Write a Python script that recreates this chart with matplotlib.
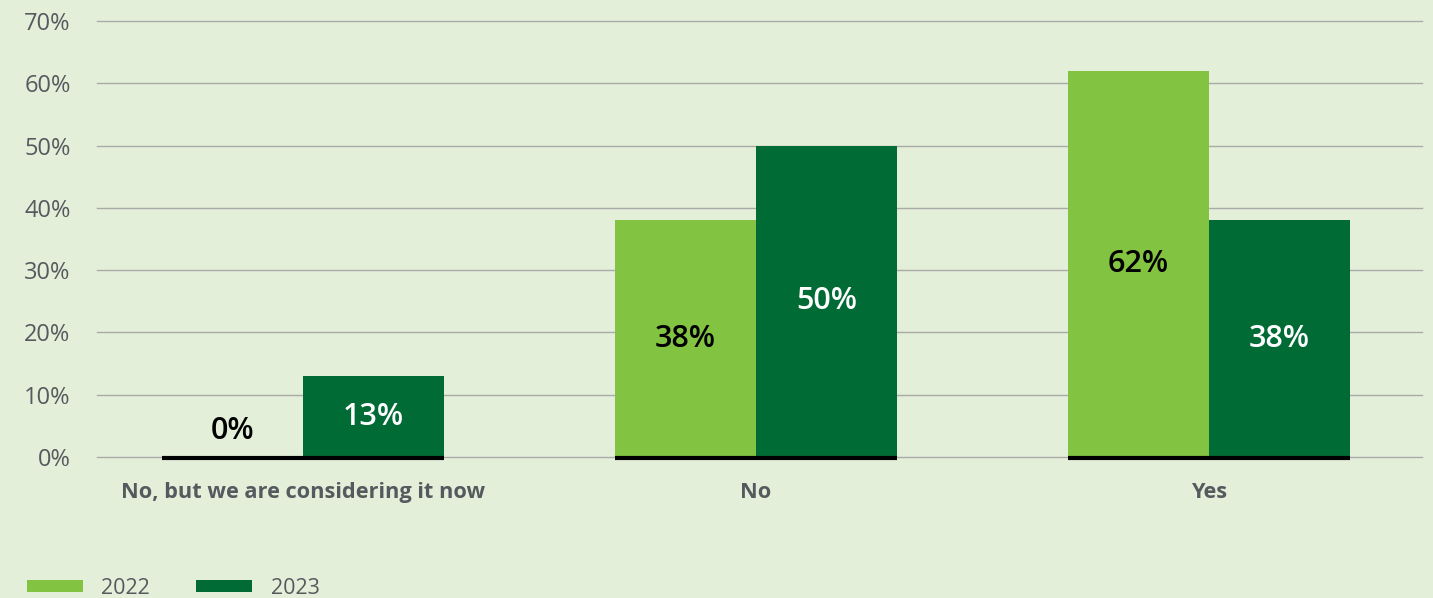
import matplotlib
matplotlib.use("Agg")
import matplotlib.pyplot as plt
import numpy as np

categories = ["No, but we are considering it now", "No", "Yes"]
series_names = ["2022", "2023"]
values_2022 = [0, 38, 62]
values_2023 = [13, 50, 38]
y_ticks = [0, 10, 20, 30, 40, 50, 60, 70]

BG = "#e4efd9"
LIGHT = "#82c341"
DARK = "#006b35"
GREY_TXT = "#555a5f"

plt.rcParams["font.family"] = ["Open Sans", "DejaVu Sans"]

fig = plt.figure(figsize=(14.33, 5.98), dpi=100, facecolor=BG)
ax = fig.add_axes([97 / 1433, 141 / 598, (1422 - 97) / 1433, (577 - 141) / 598])
ax.set_facecolor(BG)

x = np.arange(len(categories))
w = 0.311
b1 = ax.bar(x - w / 2, values_2022, w, color=LIGHT, label=series_names[0], zorder=3)
b2 = ax.bar(x + w / 2, values_2023, w, color=DARK, label=series_names[1], zorder=3)

# thick black base under each group
for xi in x:
    ax.hlines(-0.17, xi - w, xi + w, color="black", lw=3, zorder=4, clip_on=False)

# value labels in the middle of each bar
for bars, vals, col in [(b1, values_2022, "black"), (b2, values_2023, "white")]:
    for rect, v in zip(bars, vals):
        cx = rect.get_x() + rect.get_width() / 2
        cy = v / 2 if v > 0 else 4.2
        ax.text(cx, cy, f"{v}%", ha="center", va="center", fontsize=22,
                fontweight="semibold", color=col if v > 0 else "black", zorder=5)

ax.set_xlim(-0.4547, 2.47)
ax.set_ylim(0, 70)
ax.set_yticks(y_ticks)
ax.set_yticklabels([f"{t}%" for t in y_ticks])
ax.yaxis.grid(True, color="#a8aba6", lw=1)
for gl in ax.get_ygridlines():
    gl.set_clip_on(False)
ax.set_axisbelow(True)
ax.tick_params(axis="y", length=0, pad=19, labelsize=17, labelcolor=GREY_TXT)
ax.set_xticks(x)
ax.set_xticklabels(categories, fontweight="bold")
ax.tick_params(axis="x", length=0, pad=18, labelsize=15.7, labelcolor=GREY_TXT)
for s in ax.spines.values():
    s.set_visible(False)

fig.legend(handles=[b1, b2], loc="center left", bbox_to_anchor=(27 / 1433, 10 / 598),
           ncol=2, frameon=False, borderpad=0, borderaxespad=0, fontsize=15.5,
           handlelength=2.6, handleheight=0.53, handletextpad=0.85,
           columnspacing=2.15, labelcolor=GREY_TXT)

fig.savefig("out.png", dpi=100, facecolor=BG)
